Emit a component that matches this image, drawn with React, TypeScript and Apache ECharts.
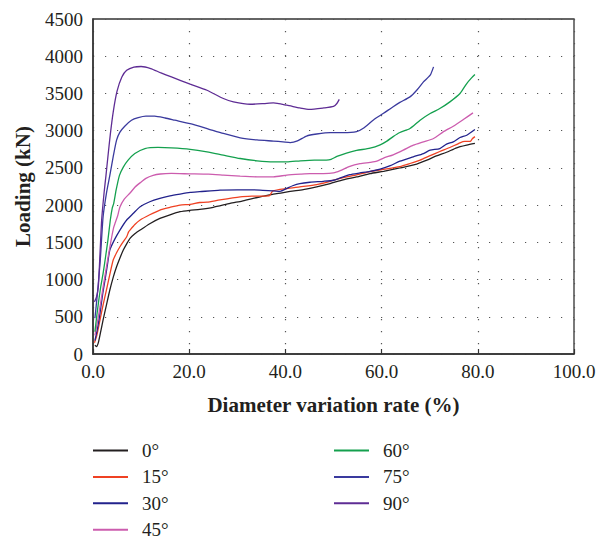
import React, { useEffect, useRef } from "react";
import * as echarts from "echarts";

const seriesNames = ["0°", "15°", "30°", "45°", "60°", "75°", "90°"];
const seriesColors = ["#231f20", "#ef4123", "#22228c", "#cc5cae", "#14a04e", "#3a3a9e", "#5e2c94"];

const xTicks = [0, 20, 40, 60, 80, 100];
const yTicks = [0, 500, 1000, 1500, 2000, 2500, 3000, 3500, 4000, 4500];

const s0: [number, number][] = [
  [0.4, 120], [0.7, 100], [1.1, 150], [1.6, 300], [2.1, 457], [2.8, 660], [3.5, 860], [4.2, 1030],
  [4.9, 1172], [5.6, 1290], [6.3, 1397], [7.0, 1480], [7.7, 1554], [8.7, 1615], [9.8, 1665],
  [11.8, 1750], [13.9, 1822], [16, 1870], [18.1, 1911], [20.1, 1930], [22.2, 1943], [25, 1970],
  [28.5, 2023], [31, 2055], [33.3, 2091], [35.5, 2120], [37.5, 2149], [39.3, 2165], [41, 2185],
  [43.7, 2209], [46.5, 2244], [49.3, 2289], [52, 2340], [54.8, 2378], [57.6, 2423], [60.4, 2454],
  [63.8, 2499], [67.3, 2550], [69.4, 2604], [71.4, 2660], [73.5, 2710], [75.6, 2770], [77.7, 2805],
  [79.4, 2828],
];
const s15: [number, number][] = [
  [0.3, 150], [0.8, 250], [1.46, 457], [2.1, 660], [2.8, 860], [3.5, 1070], [4.2, 1262], [4.9, 1360],
  [5.6, 1441], [6.3, 1510], [7.0, 1575], [7.4, 1640], [7.7, 1665], [8.7, 1740], [9.8, 1800],
  [11.8, 1870], [13.9, 1934], [16, 1970], [18.1, 2001], [20.2, 2010], [22.2, 2035], [23.7, 2040],
  [26.4, 2070], [30.6, 2110], [33, 2120], [36.6, 2125], [37.4, 2190], [40.3, 2222], [43, 2245],
  [46.5, 2276], [49.3, 2320], [52, 2370], [54.8, 2405], [57.6, 2450], [60.4, 2480], [63.8, 2518],
  [65.9, 2559], [68, 2604], [70.1, 2665], [72.1, 2720], [74.2, 2774], [76.3, 2837], [77.3, 2855],
  [78.4, 2855], [78.9, 2895], [79.4, 2920],
];
const s30: [number, number][] = [
  [0.4, 180], [0.9, 330], [1.46, 550], [2.0, 800], [2.5, 994], [3.0, 1200], [3.5, 1397], [4.5, 1540],
  [5.6, 1665], [7.0, 1800], [8.4, 1890], [9.8, 1978], [11.8, 2045], [13.9, 2091], [16, 2125],
  [18.1, 2149], [20.2, 2170], [22.2, 2180], [26.4, 2202], [30, 2205], [34.7, 2202], [38.9, 2185],
  [40.3, 2225], [41.5, 2260], [43, 2289], [45.1, 2307], [47.9, 2320], [50, 2334], [51.4, 2365],
  [53.4, 2409], [55.5, 2432], [57.6, 2454], [59.7, 2485], [61.8, 2530], [63.8, 2590], [66.6, 2649],
  [68.7, 2693], [70.1, 2738], [72.1, 2760], [73.5, 2819], [74.9, 2850], [76.3, 2908], [77.7, 2939],
  [79.4, 3015],
];
const s45: [number, number][] = [
  [0.4, 250], [0.9, 420], [1.46, 635], [2.1, 900], [2.8, 1172], [3.4, 1400], [3.9, 1575], [4.3, 1700],
  [4.6, 1759], [5.1, 1850], [5.6, 1974], [6.5, 2080], [7.7, 2162], [8.7, 2240], [9.8, 2300],
  [11, 2360], [12.5, 2400], [14, 2418], [16.3, 2425], [20, 2420], [24, 2415], [27.1, 2403],
  [30.6, 2389], [34.1, 2380], [37.5, 2380], [40.3, 2403], [43.1, 2416], [45.1, 2423], [47.9, 2423],
  [50, 2432], [51.4, 2463], [53.4, 2521], [55.5, 2556], [57.6, 2574], [59, 2590], [60.4, 2632],
  [62.4, 2676], [64.5, 2738], [66.6, 2805], [68.7, 2850], [70.8, 2895], [72.8, 2984], [74.9, 3060],
  [77, 3150], [79, 3239],
];
const s60: [number, number][] = [
  [0.4, 300], [0.8, 520], [1.2, 720], [1.6, 900], [2.1, 1083], [2.6, 1300], [3.1, 1530], [3.6, 1800],
  [4.0, 1960], [4.3, 2020], [4.8, 2200], [5.5, 2400], [6.3, 2510], [7.3, 2604], [8.7, 2693],
  [10.8, 2760], [13.5, 2775], [16.3, 2769], [20.2, 2750], [23.7, 2716], [27.1, 2671], [30.6, 2626],
  [34.1, 2595], [37.5, 2580], [40.3, 2580], [43.1, 2595], [46, 2605], [48.5, 2605], [49.5, 2615],
  [50.7, 2654], [52.7, 2699], [54.8, 2734], [57.6, 2765], [59.7, 2810], [61.1, 2860], [62.4, 2920],
  [63.8, 2975], [65.9, 3029], [68, 3141], [70.1, 3230], [72.1, 3297], [74.2, 3387], [76.3, 3499],
  [77.7, 3633], [78.7, 3709], [79.4, 3754],
];
const s75: [number, number][] = [
  [0.4, 480], [0.9, 800], [1.5, 1250], [2.1, 1844], [2.8, 2162], [3.5, 2400], [4.2, 2650], [4.9, 2872],
  [5.6, 2980], [6.6, 3060], [8, 3140], [9.4, 3175], [11, 3195], [12.8, 3195], [15, 3170], [17, 3141],
  [20.2, 3095], [23.7, 3029], [27.1, 2962], [30.6, 2904], [34.1, 2875], [37.5, 2860], [39.5, 2850],
  [41, 2840], [42.5, 2862], [44.4, 2928], [46.5, 2955], [49.3, 2975], [52, 2975], [54.8, 2988],
  [56.2, 3033], [58.3, 3144], [60.4, 3233], [62.4, 3322], [63.8, 3380], [65.9, 3454], [67.3, 3543],
  [68.7, 3655], [70.1, 3745], [70.8, 3857],
];
const s90: [number, number][] = [
  [0.3, 700], [0.7, 760], [1.1, 900], [1.46, 1356], [1.8, 1800], [2.3, 2162], [2.7, 2400], [3.1, 2650],
  [3.6, 2950], [4.2, 3250], [5.0, 3530], [6.0, 3720], [7.0, 3810], [8.5, 3855], [10, 3862], [12, 3835],
  [14, 3780], [16.3, 3722], [20.2, 3625], [23.7, 3543], [27.1, 3432], [29.2, 3387], [32.7, 3355],
  [35.5, 3364], [37.5, 3373], [40.3, 3342], [43, 3305], [45, 3285], [48, 3305], [50, 3325],
  [50.7, 3365], [51.2, 3420],
];

const allData = [s0, s15, s30, s45, s60, s75, s90];

const FONT = "'Liberation Serif', 'DejaVu Serif', serif";
const INK = "#231f20";

export default function App() {
  const ref = useRef<HTMLDivElement>(null);
  useEffect(() => {
    if (!ref.current) return;
    const chart = echarts.init(ref.current, null, { renderer: "svg" });
    const legendCommon = {
      orient: "vertical",
      top: 441,
      height: 140,
      itemWidth: 35,
      itemHeight: 2,
      itemGap: 7.4,
      padding: 0,
      icon: "rect",
      selectedMode: false,
      textStyle: { fontFamily: FONT, fontSize: 19, color: INK, padding: [0, 0, 0, 9] },
    };
    chart.setOption({
      animation: false,
      backgroundColor: "#ffffff",
      grid: {
        left: 93,
        right: 24,
        top: 19,
        bottom: 185,
        show: true,
        borderColor: "#333333",
        borderWidth: 1.3,
        containLabel: false,
        outerBoundsMode: "none",
      },
      legend: [
        { ...legendCommon, left: 93, data: seriesNames.slice(0, 4) },
        { ...legendCommon, left: 334, data: seriesNames.slice(4) },
      ],
      xAxis: {
        type: "value",
        min: xTicks[0],
        max: xTicks[xTicks.length - 1],
        interval: 20,
        name: "Diameter variation rate (%)",
        nameLocation: "middle",
        nameGap: 40,
        nameTextStyle: { fontFamily: FONT, fontSize: 21, fontWeight: "bold", color: INK },
        axisLine: { show: true, lineStyle: { color: "#333333", width: 1.5 } },
        axisTick: { show: true, inside: true, length: 5, lineStyle: { color: "#333333", width: 1.2 } },
        axisLabel: {
          fontFamily: FONT,
          fontSize: 19,
          color: INK,
          margin: 8,
          formatter: (v: number) => v.toFixed(1),
        },
        splitLine: { show: true, lineStyle: { color: "#555555", width: 1.2, type: [1.2, 10.8] } },
      },
      yAxis: {
        type: "value",
        min: yTicks[0],
        max: yTicks[yTicks.length - 1],
        interval: 500,
        name: "Loading (kN)",
        nameLocation: "middle",
        nameGap: 60,
        nameTextStyle: { fontFamily: FONT, fontSize: 21, fontWeight: "bold", color: INK },
        axisLine: { show: true, lineStyle: { color: "#333333", width: 1.5 } },
        axisTick: { show: false },
        axisLabel: {
          fontFamily: FONT,
          fontSize: 19,
          color: INK,
          margin: 10,
          formatter: (v: number) => String(v),
        },
        splitLine: { show: true, lineStyle: { color: "#555555", width: 1.2, type: [1.2, 10.8] } },
      },
      series: allData.map((d, i) => ({
        name: seriesNames[i],
        type: "line",
        data: d,
        symbol: "none",
        smooth: 0.2,
        color: seriesColors[i],
        lineStyle: { color: seriesColors[i], width: 1.3 },
      })),
    });
    return () => chart.dispose();
  }, []);
  return (
    <div
      ref={ref}
      style={{ position: "fixed", left: 0, top: 0, width: 598, height: 539, background: "#fff" }}
    />
  );
}
